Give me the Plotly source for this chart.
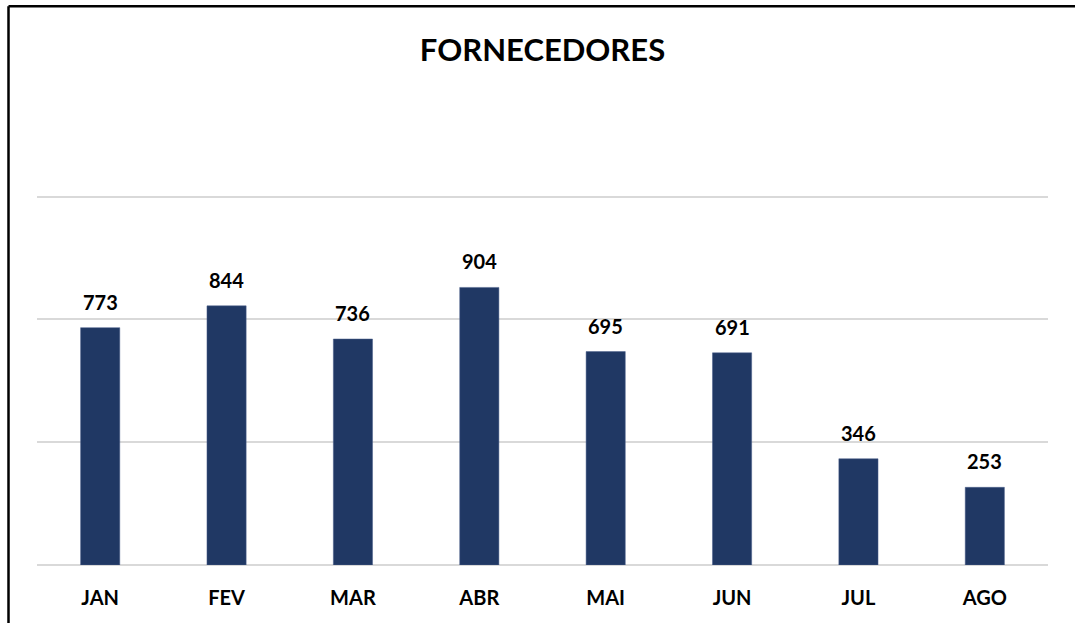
import plotly.graph_objects as go

months = ["JAN", "FEV", "MAR", "ABR", "MAI", "JUN", "JUL", "AGO"]
values = [773, 844, 736, 904, 695, 691, 346, 253]
title_text = "FORNECEDORES"

FONT = "Lato, 'Open Sans', sans-serif"
BAR = "#203864"

fig = go.Figure()
fig.add_trace(go.Bar(
    x=months, y=values, width=0.31,
    marker=dict(color=BAR, line=dict(color="#4a5f8a", width=0.5)),
    hoverinfo="x+y",
))

for m, v in zip(months, values):
    fig.add_annotation(x=m, y=v, text=f"<b>{v}</b>", showarrow=False,
                       yanchor="bottom", yshift=12,
                       font=dict(family=FONT, size=20, color="black"))

W, H = 1075, 623
YMAX = 1205
L, R, T, B = 37, 27, 194.5, 58
ph = H - T - B
pw = W - L - R

def py(pix):
    return (H - B - pix) / ph

def px(pix):
    return (pix - L) / pw

fig.add_shape(type="line", xref="paper", yref="paper",
              x0=px(8.5), x1=px(1080), y0=py(5.5), y1=py(5.5),
              line=dict(color="black", width=2.5))
fig.add_shape(type="line", xref="paper", yref="paper",
              x0=px(8.5), x1=px(8.5), y0=py(5.5), y1=py(630),
              line=dict(color="black", width=2.5))

fig.update_layout(
    width=W, height=H,
    margin=dict(l=L, r=R, t=T, b=B),
    paper_bgcolor="white", plot_bgcolor="white",
    showlegend=False,
    title=dict(text=f"<b>{title_text}</b>", x=0.5, xanchor="center",
               xref="paper", y=1 - 50 / H, yref="container", yanchor="middle",
               font=dict(family=FONT, size=31, color="black")),
    xaxis=dict(showgrid=False, showline=False, ticks="",
               tickfont=dict(family=FONT, size=20, color="black"),
               ticklabelstandoff=19),
    yaxis=dict(range=[0, YMAX], tickvals=[0, 400, 800, 1200],
               showticklabels=False, showgrid=True, gridcolor="#d9d9d9",
               gridwidth=1.5, zeroline=True, zerolinecolor="#d9d9d9",
               zerolinewidth=1.5, showline=False),
    bargap=0.69,
)
fig.update_xaxes(tickprefix="<b>", ticksuffix="</b>")

fig.write_html("out.html",
               config={"displayModeBar": False},
               post_script="document.body.style.margin='0';document.body.style.padding='0';")
